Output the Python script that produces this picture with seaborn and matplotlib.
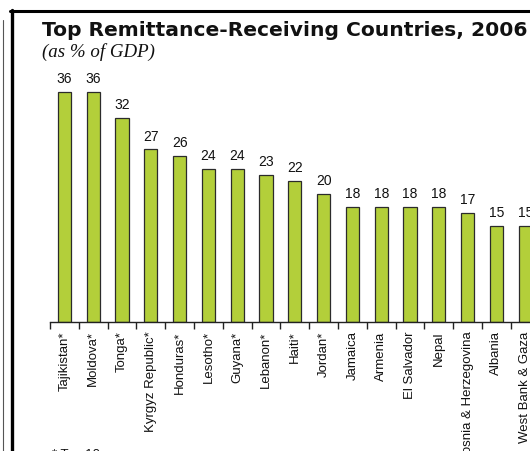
import matplotlib
matplotlib.use("Agg")
import matplotlib.pyplot as plt
from matplotlib.lines import Line2D
import seaborn as sns
import pandas as pd

countries = ["Tajikistan*", "Moldova*", "Tonga*", "Kyrgyz Republic*", "Honduras*",
             "Lesotho*", "Guyana*", "Lebanon*", "Haiti*", "Jordan*", "Jamaica",
             "Armenia", "El Salvador", "Nepal", "Bosnia & Herzegovina", "Albania",
             "West Bank & Gaza"]
share_gdp = [36, 36, 32, 27, 26, 24, 24, 23, 22, 20, 18, 18, 18, 18, 17, 15, 15]

title = "Top Remittance-Receiving Countries, 2006"
subtitle = "(as % of GDP)"
footnote = "* Top 10"

sns.set_theme(style="white")
plt.rcParams["font.family"] = ["Liberation Sans", "DejaVu Sans"]

W, H = 530, 452
fig = plt.figure(figsize=(W / 100, H / 100), dpi=100)
fig.patch.set_facecolor("white")

# axes: baseline at y=323 px, 28.8 px per category, left boundary at x=50 px
n_slots = 20
slot = 28.8
px_per_unit = 6.39
ymax = 40
ax_left, ax_bottom = 50, 323
ax_w = n_slots * slot
ax_h = ymax * px_per_unit
ax = fig.add_axes([ax_left / W, (H - ax_bottom) / H, ax_w / W, ax_h / H])

df = pd.DataFrame({"country": countries, "value": share_gdp})
sns.barplot(data=df, x="country", y="value", color="#B3CF3A", width=0.46,
            edgecolor="#2b2b2b", linewidth=0.9, saturation=1, ax=ax)

ax.bar_label(ax.containers[0], labels=[str(v) for v in share_gdp], padding=5,
             fontsize=10, color="#111111")

ax.set_xlim(-0.5, n_slots - 0.5)
ax.set_ylim(0, ymax)
ax.set_xlabel("")
ax.set_ylabel("")
ax.set_yticks([])
for side in ("left", "right", "top"):
    ax.spines[side].set_visible(False)
ax.spines["bottom"].set_color("#222222")
ax.spines["bottom"].set_linewidth(1.0)

ax.set_xticks(range(len(countries)))
ax.set_xticklabels(countries, rotation=90, fontsize=9.5, color="#111111")
ax.tick_params(axis="x", which="major", length=0, pad=6)
ax.set_xticks([i - 0.5 for i in range(n_slots + 1)], minor=True)
ax.tick_params(axis="x", which="minor", length=5, width=1.0, color="#222222",
               direction="out", bottom=True)

# titles
fig.text(42 / W, 1 - 35.5 / H, title, fontsize=14.6, fontweight="bold",
         family="DejaVu Sans", ha="left", va="baseline", color="#111111")
fig.text(42 / W, 1 - 56.5 / H, subtitle, fontsize=13.6, style="italic",
         family="Liberation Serif", ha="left", va="baseline", color="#111111")
fig.text(52 / W, 1 - 458 / H, footnote, fontsize=9.5, ha="left",
         va="baseline", color="#111111")

# page frame lines
fig.add_artist(Line2D([11.5 / W, 11.5 / W], [0, 1 - 11 / H], color="black",
                      linewidth=2.4, transform=fig.transFigure))
fig.add_artist(Line2D([10.3 / W, 1], [1 - 11.5 / H, 1 - 11.5 / H], color="black",
                      linewidth=2.2, transform=fig.transFigure))
fig.add_artist(Line2D([2.5 / W, 2.5 / W], [0, 1 - 21 / H], color="#555555",
                      linewidth=0.8, transform=fig.transFigure))

fig.savefig("out.png", dpi=100)
